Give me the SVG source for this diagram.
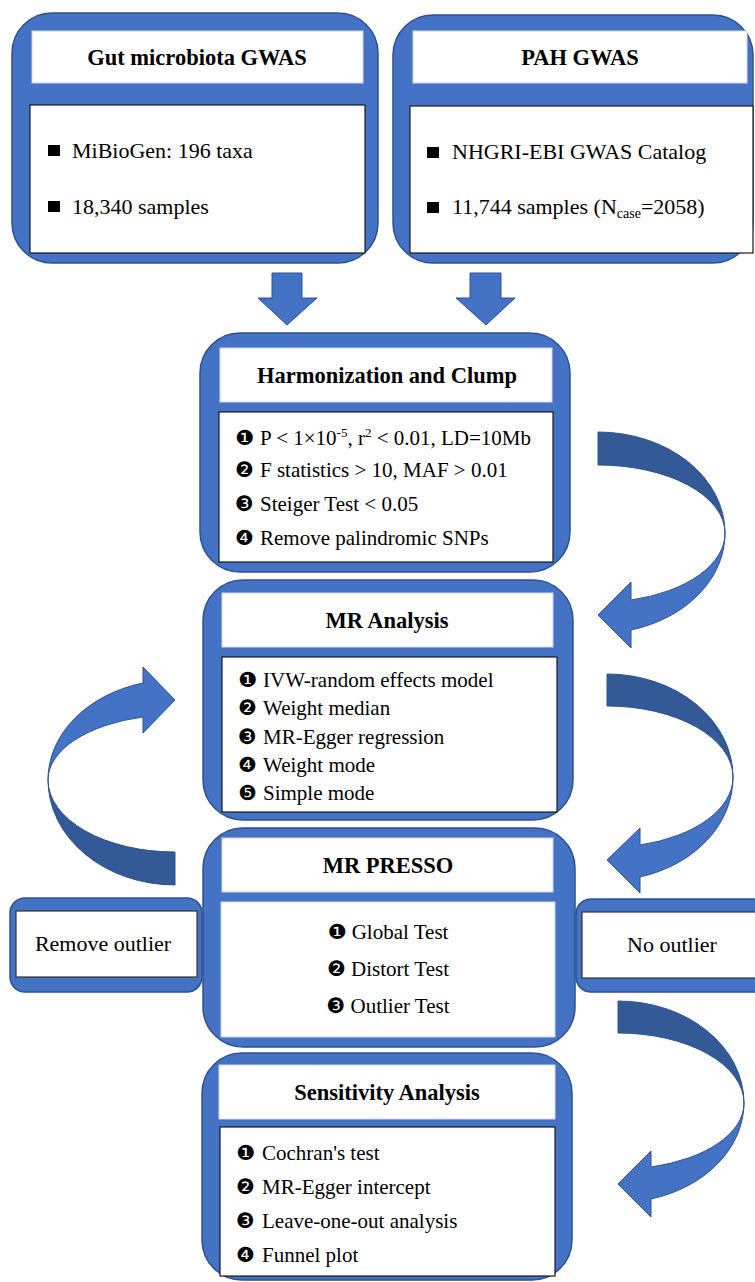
<svg xmlns="http://www.w3.org/2000/svg" width="755" height="1282" viewBox="0 0 755 1282">
<style>
.outer{fill:#4472C4;stroke:#2F528F;stroke-width:1.5}
.head{fill:#fff;stroke:#d0d7e5;stroke-width:1}
.body{fill:#fff;stroke:#1a1a1a;stroke-width:1.2}
.bodyn{fill:#fff;stroke:#c9d3e8;stroke-width:1}
.t{font-family:"Liberation Serif","Times New Roman",serif;fill:#000}
.title{font-size:22.5px;font-weight:bold;text-anchor:middle}
.item{font-size:21px}
.big{font-size:22px}
.b{font-family:"DejaVu Sans",sans-serif;font-size:21px}
.light{fill:#4472C4;stroke:#2F528F;stroke-width:1}
.dark{fill:#335A97;stroke:#2F528F;stroke-width:1}
</style>
<rect width="755" height="1282" fill="#fff"/>

<g id="connectors">
  <path class="light" d="M272,273 L302,273 L302,298 L317,298 L287,325 L258,298 L272,298 Z"/>
  <path class="light" d="M470,273 L501,273 L501,298 L515,298 L486,325 L456,298 L470,298 Z"/>
  <path class="dark" d="M598,432 A127,101 0 0 1 725,533 A127,68 0 0 0 598,465 Z"/>
  <path class="light" d="M725,533 A127,100 0 0 1 631,630 L631,648 L598,615 L631,582 L631,600 A127,69 0 0 0 725,533 Z"/>
  <path class="dark" d="M607,674 A126,103 0 0 1 733,777 A126,71 0 0 0 607,706 Z"/>
  <path class="light" d="M733,777 A126,103 0 0 1 640,877 L640,893 L607,860 L640,828 L640,845 A126,70 0 0 0 733,777 Z"/>
  <path class="dark" d="M618,1001 A126,102 0 0 1 744,1103 A126,70 0 0 0 618,1033 Z"/>
  <path class="light" d="M744,1103 A126,100 0 0 1 651,1199 L651,1217 L618,1184 L651,1151 L651,1167 A126,66 0 0 0 744,1103 Z"/>
  <path class="dark" d="M175,885 A127,105 0 0 1 48,780 A127,72 0 0 0 175,852 Z"/>
  <path class="light" d="M48,780 A127,100 0 0 1 143,683 L143,667 L175,700 L143,733 L143,717 A127,65 0 0 0 48,780 Z"/>
</g>

<g id="gut-gwas">
  <rect class="outer" x="12" y="13" width="366" height="250" rx="40"/>
  <rect class="head" x="32" y="31" width="331" height="52"/>
  <rect class="body" x="30" y="105" width="335" height="148"/>
  <text class="t title" x="197" y="65">Gut microbiota GWAS</text>
  <rect x="48" y="145" width="12" height="11" fill="#000"/>
  <text class="t big" x="72" y="158">MiBioGen: 196 taxa</text>
  <rect x="48" y="201" width="12" height="11" fill="#000"/>
  <text class="t big" x="72" y="214">18,340 samples</text>
</g>

<g id="pah-gwas">
  <rect class="outer" x="393" y="15" width="360" height="248" rx="40"/>
  <rect class="head" x="413" y="31" width="334" height="52"/>
  <rect class="body" x="410" y="106" width="343" height="147"/>
  <text class="t title" x="580" y="65">PAH GWAS</text>
  <rect x="427" y="147" width="12" height="11" fill="#000"/>
  <text class="t big" x="452" y="159">NHGRI-EBI GWAS Catalog</text>
  <rect x="427" y="202" width="12" height="11" fill="#000"/>
  <text class="t big" x="452" y="214">11,744 samples (N<tspan font-size="14" dy="4">case</tspan><tspan dy="-4">=2058)</tspan></text>
</g>

<g id="harmonization">
  <rect class="outer" x="200" y="333" width="370" height="239" rx="40"/>
  <rect class="head" x="220" y="348" width="332" height="54"/>
  <rect class="body" x="219" y="412" width="334" height="150"/>
  <text class="t title" x="387" y="383">Harmonization and Clump</text>
  <text class="t item" y="445"><tspan class="b" x="235">❶</tspan><tspan x="260">P &lt; 1×10</tspan><tspan font-size="13" dy="-8">-5</tspan><tspan dy="8">, r</tspan><tspan font-size="13" dy="-8">2</tspan><tspan dy="8"> &lt; 0.01, LD=10Mb</tspan></text>
  <text class="t item" y="477"><tspan class="b" x="235">❷</tspan><tspan x="260">F statistics &gt; 10, MAF &gt; 0.01</tspan></text>
  <text class="t item" y="511"><tspan class="b" x="235">❸</tspan><tspan x="260">Steiger Test &lt; 0.05</tspan></text>
  <text class="t item" y="545"><tspan class="b" x="235">❹</tspan><tspan x="260">Remove palindromic SNPs</tspan></text>
</g>

<g id="mr-analysis">
  <rect class="outer" x="203" y="580" width="370" height="240" rx="40"/>
  <rect class="head" x="222" y="593" width="331" height="54"/>
  <rect class="body" x="222" y="657" width="335" height="155"/>
  <text class="t title" x="387" y="628">MR Analysis</text>
  <text class="t item" y="687"><tspan class="b" x="238">❶</tspan><tspan x="263">IVW-random effects model</tspan></text>
  <text class="t item" y="715"><tspan class="b" x="238">❷</tspan><tspan x="263">Weight median</tspan></text>
  <text class="t item" y="744"><tspan class="b" x="238">❸</tspan><tspan x="263">MR-Egger regression</tspan></text>
  <text class="t item" y="772"><tspan class="b" x="238">❹</tspan><tspan x="263">Weight mode</tspan></text>
  <text class="t item" y="800"><tspan class="b" x="238">❺</tspan><tspan x="263">Simple mode</tspan></text>
</g>

<g id="remove-outlier">
  <rect class="outer" x="10" y="898" width="192" height="94" rx="15"/>
  <rect x="16" y="911" width="181" height="66" fill="#fff" stroke="#333" stroke-width="1.2"/>
  <text class="t big" x="103" y="951" text-anchor="middle">Remove outlier</text>
</g>

<g id="no-outlier">
  <rect class="outer" x="576" y="899" width="200" height="93" rx="15"/>
  <rect x="582" y="912" width="190" height="66" fill="#fff" stroke="#333" stroke-width="1.2"/>
  <text class="t big" x="672" y="952" text-anchor="middle">No outlier</text>
</g>

<g id="mr-presso">
  <rect class="outer" x="203" y="828" width="372" height="219" rx="40"/>
  <rect class="head" x="222" y="838" width="331" height="54"/>
  <rect class="bodyn" x="221" y="902" width="334" height="135"/>
  <text class="t title" x="388" y="873">MR PRESSO</text>
  <text class="t item" y="939" text-anchor="middle" x="388"><tspan class="b">❶</tspan> Global Test</text>
  <text class="t item" y="976" text-anchor="middle" x="388"><tspan class="b">❷</tspan> Distort Test</text>
  <text class="t item" y="1013" text-anchor="middle" x="388"><tspan class="b">❸</tspan> Outlier Test</text>
</g>

<g id="sensitivity">
  <rect class="outer" x="202" y="1053" width="370" height="227" rx="40"/>
  <rect class="head" x="219" y="1065" width="336" height="54"/>
  <rect class="body" x="220" y="1127" width="335" height="149"/>
  <text class="t title" x="387" y="1100">Sensitivity Analysis</text>
  <text class="t item" y="1160"><tspan class="b" x="236">❶</tspan><tspan x="262">Cochran's test</tspan></text>
  <text class="t item" y="1194"><tspan class="b" x="236">❷</tspan><tspan x="262">MR-Egger intercept</tspan></text>
  <text class="t item" y="1228"><tspan class="b" x="236">❸</tspan><tspan x="262">Leave-one-out analysis</tspan></text>
  <text class="t item" y="1262"><tspan class="b" x="236">❹</tspan><tspan x="262">Funnel plot</tspan></text>
</g>
</svg>
